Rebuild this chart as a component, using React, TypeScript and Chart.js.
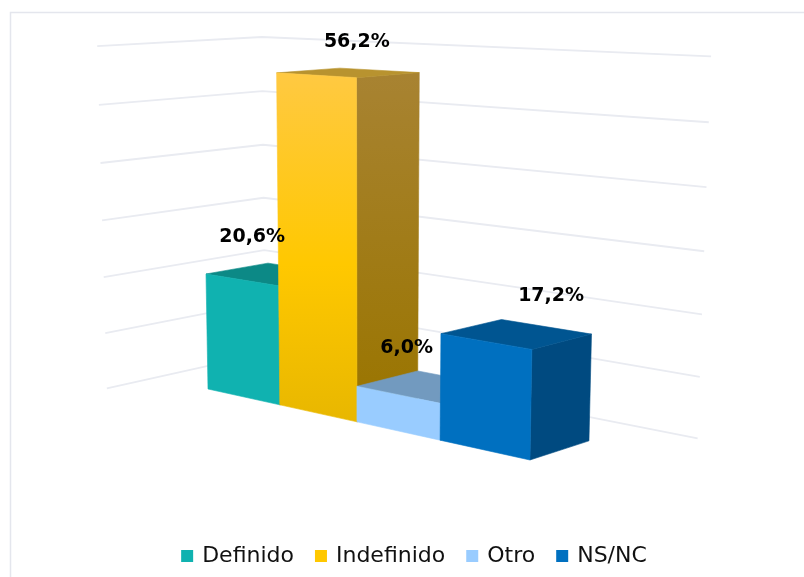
import React, { useEffect, useRef } from "react";
import { Chart, registerables } from "chart.js";

Chart.register(...registerables);

const categories = ["Definido", "Indefinido", "Otro", "NS/NC"];
const shares = [20.6, 56.2, 6.0, 17.2];
const frontColors = ["#10B2B0", "#FFC800", "#99CCFF", "#0070C0"];
const axisMax = 60;
const axisStep = 10;

// Camera: homogeneous projection of (u = category units, v = axis value, d = depth units)
const CAM = {
  x: [208, 62.1, -0.218, 69.9],
  y: [389, 1.79, -5.745, -2.2],
  w: [1, -0.0347, -0.00059, 0.0324],
};
const ROOM = { uL: -0.77, uR: 4.67, dF: -0.76, dB: 1.83 };
const FONT = '"DejaVu Sans", Verdana, sans-serif';

function project(u: number, v: number, d: number): [number, number] {
  const dot = (c: number[]) => c[0] + c[1] * u + c[2] * v + c[3] * d;
  const w = dot(CAM.w);
  return [dot(CAM.x) / w, dot(CAM.y) / w];
}

function poly(ctx: CanvasRenderingContext2D, pts: [number, number][], fill: any) {
  ctx.beginPath();
  pts.forEach((p, i) => (i ? ctx.lineTo(p[0], p[1]) : ctx.moveTo(p[0], p[1])));
  ctx.closePath();
  ctx.fillStyle = fill;
  ctx.fill();
  ctx.strokeStyle = fill;
  ctx.lineWidth = 0.6;
  ctx.stroke();
}

const sideColors = [
  ["#0A7F7D", "#0A7F7D"],
  ["#A88332", "#9A7500"],
  ["#6F95BA", "#6F95BA"],
  ["#004A80", "#004A80"],
];
const topColors = ["#0C8986", "#B8932F", "#729ABF", "#005591"];
const labelNudge: [number, number][] = [
  [-21, -37],
  [9, -31],
  [-22, -38],
  [35, -38],
];

const scene3d = {
  id: "scene3d",
  beforeDraw(chart: any) {
    const { ctx } = chart;
    ctx.save();
    ctx.strokeStyle = "#E4E6ED";
    ctx.lineWidth = 1.5;
    ctx.strokeRect(10.5, 12.5, 1000, 1000);
    ctx.restore();
  },
  beforeDatasetDraw(chart: any, args: any) {
    const { ctx, scales } = chart;
    const xs = scales.x;
    const ys = scales.y;
    ctx.save();
    // room grid lines, one per axis tick
    ctx.strokeStyle = "#E9EBF1";
    ctx.lineWidth = 1.8;
    ys.ticks.forEach((t: any) => {
      const a = project(ROOM.uL, t.value, ROOM.dF);
      const b = project(ROOM.uL, t.value, ROOM.dB);
      const c = project(ROOM.uR, t.value, ROOM.dB);
      ctx.beginPath();
      ctx.moveTo(a[0], a[1]);
      ctx.lineTo(b[0], b[1]);
      ctx.lineTo(c[0], c[1]);
      ctx.stroke();
    });
    const n = categories.length;
    const toU = (px: number) => ((px - xs.left) / xs.width) * n;
    const els = args.meta.data;
    els.forEach((el: any, i: number) => {
      const u0 = toU(el.x - el.width / 2);
      const u1 = toU(el.x + el.width / 2);
      const v = ys.getValueForPixel(el.y);
      const v0 = ys.getValueForPixel(el.base);
      const fb = project(u1, v0, 0);
      const ft = project(u1, v, 0);
      const bb = project(u1, v0, 1);
      const bt = project(u1, v, 1);
      const tl = project(u0, v, 0);
      const tlb = project(u0, v, 1);
      const fl = project(u0, v0, 0);
      const side = ctx.createLinearGradient(0, bt[1], 0, bb[1]);
      side.addColorStop(0, sideColors[i][0]);
      side.addColorStop(1, sideColors[i][1]);
      poly(ctx, [fb, ft, bt, bb], side);
      poly(ctx, [tl, tlb, bt, ft], topColors[i]);
      let face: any = frontColors[i];
      if (i === 1) {
        face = ctx.createLinearGradient(0, tl[1], 0, fb[1]);
        face.addColorStop(0, "#FFC942");
        face.addColorStop(0.55, "#FFC800");
        face.addColorStop(1, "#E8B700");
      }
      poly(ctx, [fl, tl, ft, fb], face);
    });
    ctx.fillStyle = "#000";
    ctx.font = `bold 19px ${FONT}`;
    ctx.textAlign = "center";
    ctx.textBaseline = "middle";
    els.forEach((el: any, i: number) => {
      const um = toU(el.x);
      const p = project(um, shares[i], 0.5);
      const txt = shares[i].toFixed(1).replace(".", ",") + "%";
      ctx.fillText(txt, p[0] + labelNudge[i][0], p[1] + labelNudge[i][1]);
    });
    ctx.restore();
    return false;
  },
};

export default function App() {
  const ref = useRef<HTMLCanvasElement>(null);
  useEffect(() => {
    const chart = new Chart(ref.current!, {
      type: "bar",
      data: {
        labels: categories,
        datasets: [
          {
            label: "Respuesta",
            data: shares,
            backgroundColor: frontColors,
            barPercentage: 1,
            categoryPercentage: 1,
          },
        ],
      },
      options: {
        responsive: false,
        animation: false,
        events: [],
        layout: { padding: { left: 26 } },
        scales: {
          x: { display: false, offset: true },
          y: { display: false, min: 0, max: axisMax, ticks: { stepSize: axisStep } },
        },
        plugins: {
          tooltip: { enabled: false },
          legend: {
            position: "bottom",
            labels: {
              usePointStyle: true,
              pointStyle: "rect",
              boxWidth: 8,
              boxHeight: 12,
              padding: 23,
              color: "#111",
              font: { family: FONT, size: 22 },
              generateLabels: () =>
                categories.map((text, i) => ({
                  text,
                  fillStyle: frontColors[i],
                  strokeStyle: frontColors[i],
                  lineWidth: 0,
                  hidden: false,
                  index: i,
                  pointStyle: "rect",
                  fontColor: "#111",
                })),
            },
          },
        },
      },
      plugins: [scene3d],
    } as any);
    return () => chart.destroy();
  }, []);
  return (
    <div style={{ position: "absolute", left: 0, top: 0, width: 804, height: 577, overflow: "hidden", background: "#fff" }}>
      <canvas ref={ref} width={804} height={577} style={{ display: "block", filter: "blur(0.45px)" }} />
    </div>
  );
}
